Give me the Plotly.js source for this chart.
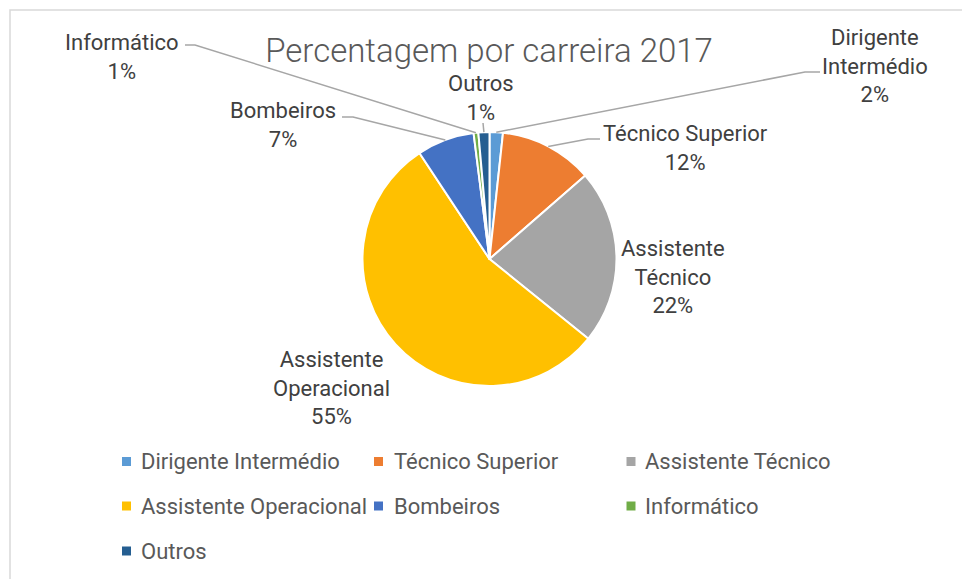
<!DOCTYPE html>
<html><head><meta charset="utf-8">
<script src="https://cdn.plot.ly/plotly-3.0.1.min.js"></script>
<style>html,body{margin:0;padding:0;background:#fff;} #chart{width:962px;height:579px;}</style>
</head><body><div id="chart"></div>
<script>
// ---- data ----
const categories = ['Dirigente Intermédio','Técnico Superior','Assistente Técnico','Assistente Operacional','Bombeiros','Informático','Outros'];
const values = [1.7, 11.9, 22.2, 54.9, 7.3, 0.6, 1.4];
const colors = ['#5B9BD5','#ED7D31','#A5A5A5','#FFC000','#4472C4','#70AD47','#255E91'];
const wrappedLabels = ['Dirigente<br>Intermédio','Técnico Superior','Assistente<br>Técnico','Assistente<br>Operacional','Bombeiros','Informático','Outros'];
const titleText = 'Percentagem por carreira 2017';

// ---- layout geometry (pixels) ----
const W = 962, H = 579;
const cx = 489.5, cy = 259, R = 127;
const FONT = 'Roboto, "Liberation Sans", sans-serif';
const labelPos = [[875,66],[685,148],[673,277],[331,388],[283,125],[122,57],[481,98]];
const leaderElbows = [[[820,72],[805,72]], [[600,139],[588,139]], null, null, [[342,117],[353,117]], [[185,45],[195,45]], [[483,123]]];
const legendColX = [126.5, 378.5, 631];
const legendTextX = [139, 392, 643];
const legendRowY = [461.5, 506, 551];

const px = x => x / W;
const py = y => 1 - y / H;

const total = values.reduce((a,b)=>a+b,0);
const annotations = [];
const shapes = [];

// frame
shapes.push({type:'rect', xref:'paper', yref:'paper', x0:px(10), x1:1.2, y0:-0.2, y1:py(10),
  line:{color:'#D9D9D9', width:1.5}, fillcolor:'rgba(0,0,0,0)'});

let cum = 0;
values.forEach((v,i)=>{
  const mid = (cum + v/2) / total * 2*Math.PI;
  cum += v;
  const pct = Math.round(v/total*100) + '%';
  annotations.push({xref:'paper', yref:'paper', x:px(labelPos[i][0]), y:py(labelPos[i][1]),
    xanchor:'center', yanchor:'middle', showarrow:false, align:'center',
    text: wrappedLabels[i] + '<br>' + pct, font:{family:FONT, size:22, color:'#404040'}});
  if (leaderElbows[i]) {
    const ex = cx + R*Math.sin(mid), ey = cy - R*Math.cos(mid);
    const pts = leaderElbows[i].concat([[ex,ey]]);
    const path = pts.map((p,k)=> (k?'L':'M') + px(p[0]) + ',' + py(p[1])).join(' ');
    shapes.push({type:'path', xref:'paper', yref:'paper', path:path, line:{color:'#A6A6A6', width:1.5}});
  }
  // legend entry
  const row = Math.floor(i/3), col = i%3;
  const mx = legendColX[col], my = legendRowY[row];
  shapes.push({type:'rect', xref:'paper', yref:'paper', x0:px(mx-4.5), x1:px(mx+4.5), y0:py(my+4.5), y1:py(my-4.5),
    fillcolor:colors[i], line:{width:0}});
  annotations.push({xref:'paper', yref:'paper', x:px(legendTextX[col]), y:py(my), xanchor:'left', yanchor:'middle',
    showarrow:false, text:categories[i], font:{family:FONT, size:22, color:'#595959'}});
});

const trace = {
  type:'pie', labels:categories, values:values, sort:false, direction:'clockwise', rotation:0,
  marker:{colors:colors, line:{color:'#FFFFFF', width:2}},
  textinfo:'none', hoverinfo:'label+percent', showlegend:false,
  domain:{x:[px(cx-R), px(cx+R)], y:[py(cy+R), py(cy-R)]}
};

const layout = {
  width:W, height:H, margin:{l:0,r:0,t:0,b:0}, paper_bgcolor:'#FFFFFF',
  title:{text:titleText, x:px(489), xanchor:'center', y:py(50), yanchor:'middle',
    font:{family:FONT, size:33, color:'#595959', weight:300}},
  showlegend:false, annotations:annotations, shapes:shapes
};
Plotly.newPlot('chart', [trace], layout, {displayModeBar:false, staticPlot:true});
</script></body></html>
